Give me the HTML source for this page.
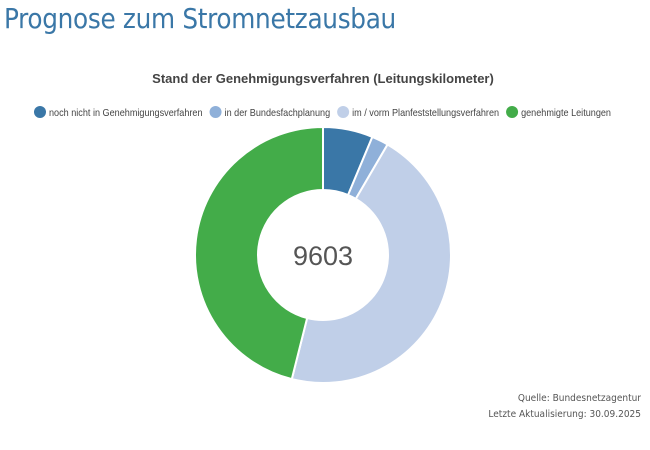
<!DOCTYPE html>
<html><head><meta charset="utf-8"><style>
body{margin:0;width:650px;height:450px;background:#fff;font-family:"Liberation Sans",sans-serif;overflow:hidden;position:relative}
h1{position:absolute;left:4px;top:3px;margin:0;font-size:27.5px;font-weight:normal;color:#3a77a7;letter-spacing:-0.3px;font-family:"DejaVu Sans Condensed","Liberation Sans Narrow","Liberation Sans",sans-serif}
.src{position:absolute;right:9px;font-size:10px;color:#555;font-family:"DejaVu Sans Condensed","Liberation Sans Narrow",sans-serif}
</style></head><body>
<h1>Prognose zum Stromnetzausbau</h1>
<svg id="c" width="650" height="450" style="position:absolute;left:0;top:0">
<text x="323" y="83" text-anchor="middle" font-size="13" font-weight="bold" fill="#444">Stand der Genehmigungsverfahren (Leitungskilometer)</text>
<g id="legend"></g><g id="slices"></g>
<text id="total" x="323" y="265" text-anchor="middle" font-size="27" fill="#555"></text>
</svg>
<div class="src" style="top:393px">Quelle: Bundesnetzagentur</div>
<div class="src" style="top:409px">Letzte Aktualisierung: 30.09.2025</div>
<script>
const categories=["noch nicht in Genehmigungsverfahren","in der Bundesfachplanung","im / vorm Planfeststellungsverfahren","genehmigte Leitungen"];
const values=[605,203,4370,4425];
const colors=["#3a77a7","#8fb0d9","#c0cfe8","#43ac49"];
const NS="http://www.w3.org/2000/svg";
const cx=323,cy=255,R=128,r=65;
const total=values.reduce((a,b)=>a+b,0);
document.getElementById('total').textContent=total;
let a=0;const g=document.getElementById('slices');
function pt(rad,ang){return [cx+rad*Math.sin(ang),cy-rad*Math.cos(ang)];}
values.forEach((v,i)=>{
 const a2=a+v/total*2*Math.PI;const lg=(a2-a)>Math.PI?1:0;
 const p1=pt(R,a),p2=pt(R,a2),p3=pt(r,a2),p4=pt(r,a);
 const p=document.createElementNS(NS,'path');
 p.setAttribute('d',`M${p1}A${R},${R} 0 ${lg} 1 ${p2}L${p3}A${r},${r} 0 ${lg} 0 ${p4}Z`);
 p.setAttribute('fill',colors[i]);p.setAttribute('stroke','#fff');p.setAttribute('stroke-width','2');
 
 
 g.appendChild(p);a=a2;
});
const lgd=document.getElementById('legend');
const texts=[];
categories.forEach((c,i)=>{
 const t=document.createElementNS(NS,'text');
 t.setAttribute('y',116);t.setAttribute('font-size','10.5');t.setAttribute('fill','#444');
 t.textContent=c;
 
 
 lgd.appendChild(t);texts.push(t);
});
const nat=texts.map(t=>t.getComputedTextLength());
const sum=nat.reduce((a,b)=>a+b,0);
const k=496/sum;
let x=34;
texts.forEach((t,i)=>{
 const w=nat[i]*k;
 const ci=document.createElementNS(NS,'circle');
 ci.setAttribute('cx',x+6);ci.setAttribute('cy',112);ci.setAttribute('r',6);ci.setAttribute('fill',colors[i]);
 
 
 lgd.appendChild(ci);
 t.setAttribute('x',x+15);
 t.setAttribute('textLength',w);t.setAttribute('lengthAdjust','spacingAndGlyphs');
 x+=15+w+7;
});
</script>
</body></html>
